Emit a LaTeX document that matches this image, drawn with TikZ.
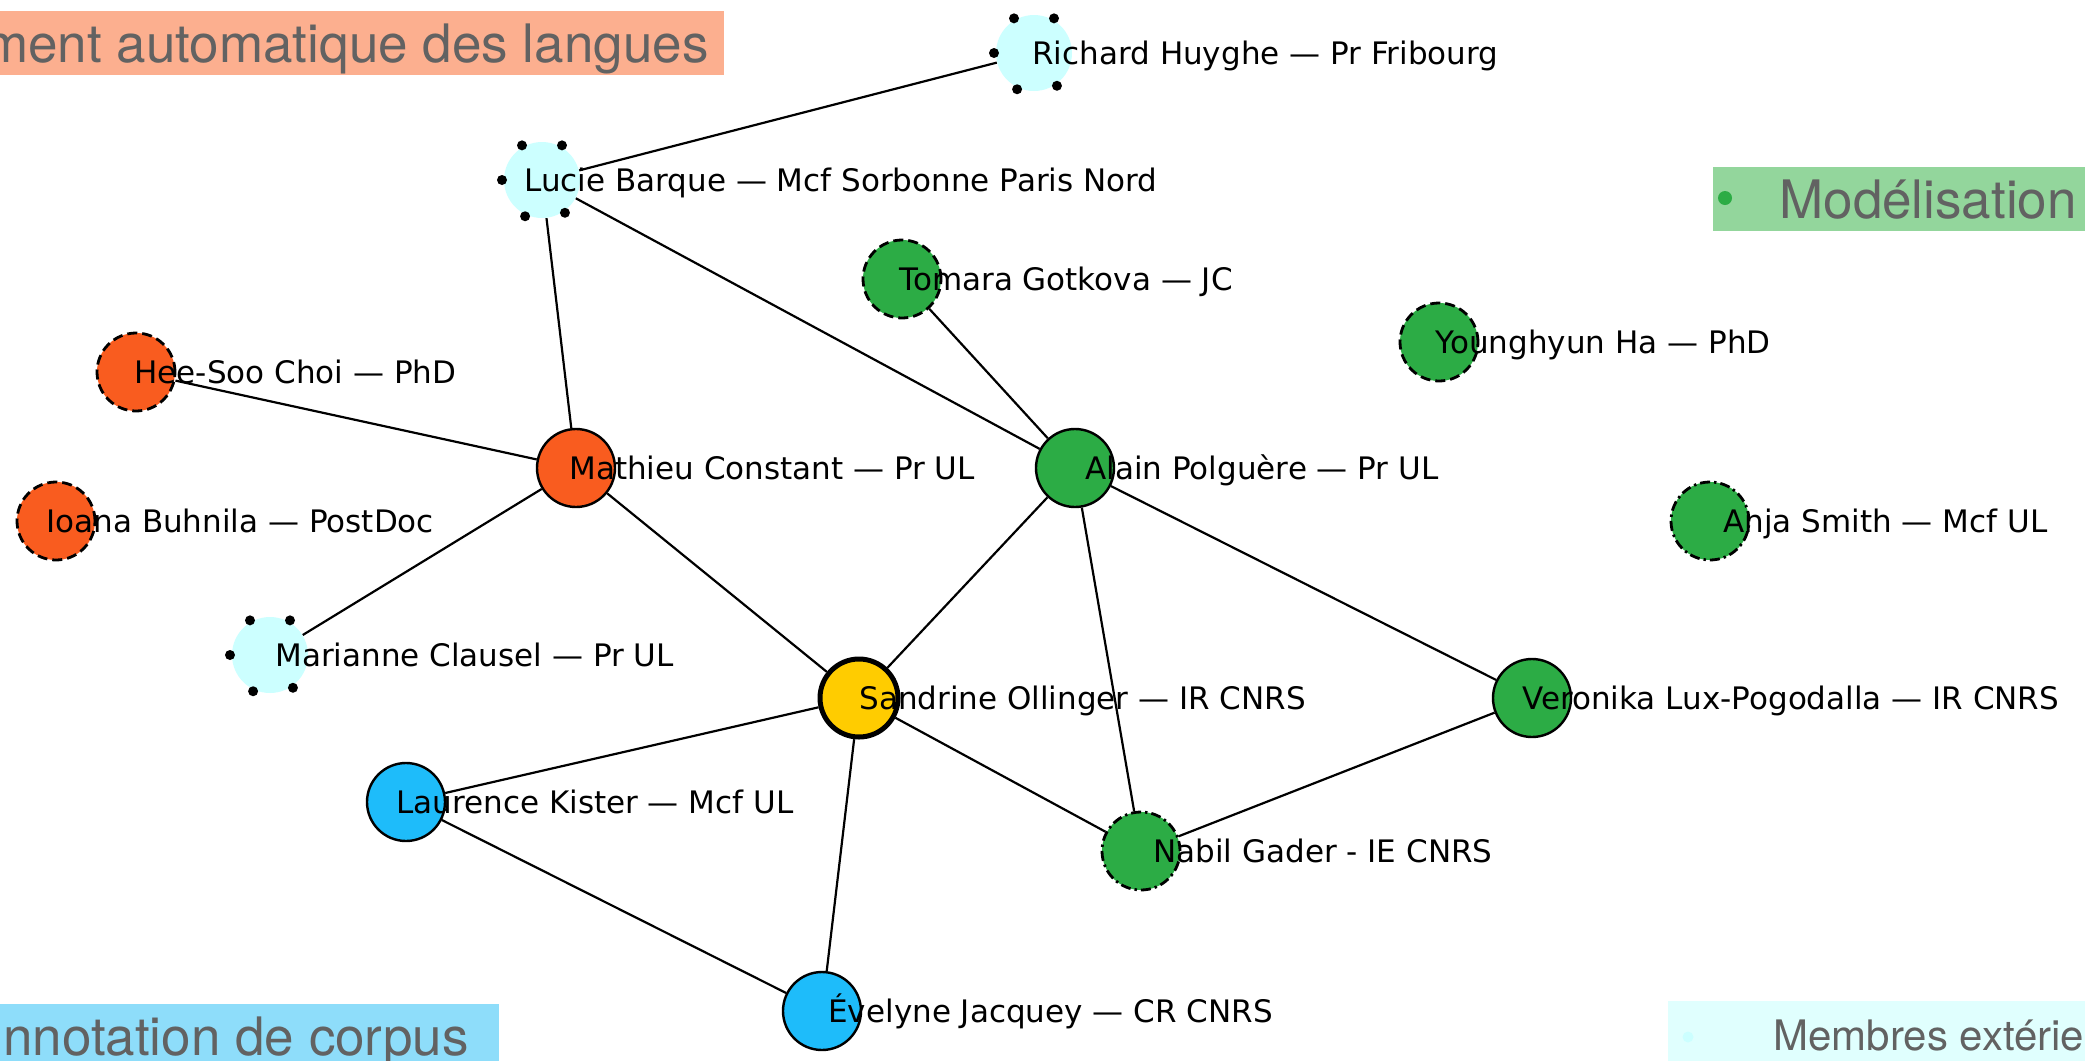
\documentclass[tikz,border=0pt]{standalone}
\usepackage{fontspec}
\usepackage{xcolor}
\usetikzlibrary{positioning}
\newfontfamily\lblfont{DejaVu Sans}
\newfontfamily\legfont{TeX Gyre Heros}
\definecolor{tlnorange}{RGB}{249,92,31}
\definecolor{modgreen}{RGB}{44,172,69}
\definecolor{annblue}{RGB}{30,188,250}
\definecolor{extcyan}{RGB}{204,255,255}
\definecolor{pilotyellow}{RGB}{255,204,0}
\definecolor{tlnbox}{RGB}{252,175,143}
\definecolor{modbox}{RGB}{147,214,156}
\definecolor{annbox}{RGB}{142,221,250}
\definecolor{extbox}{RGB}{224,255,254}
\definecolor{leggray}{RGB}{98,98,98}

\begin{document}
\begin{tikzpicture}[
    x=0.5pt, y=-0.5pt,
    member/.style={circle, draw=black, line width=1.2pt, minimum size=39pt, inner sep=0},
    visitor/.style={circle, fill=extcyan, minimum size=38pt, inner sep=0},
    dashedborder/.style={line width=1.4pt, dash pattern=on 5pt off 2.5pt},
    dashdotborder/.style={line width=1.4pt, dash pattern=on 5pt off 2pt on 1.2pt off 2pt},
    edge/.style={line width=1.1pt},
    lbl/.style={anchor=base west, inner sep=0, font=\lblfont\fontsize{15.5pt}{18pt}\selectfont},
    legend/.style={inner ysep=0, text height=25.5pt, text depth=6.5pt, text=leggray,
        font=\legfont\fontsize{26.5pt}{30pt}\selectfont},
    bullet/.style={circle, inner sep=0, minimum size=7pt}]
\useasboundingbox (0,0) rectangle (2085,1061);
\clip (0,0) rectangle (2085,1061);

\node[legend, fill=tlnbox, inner xsep=7.5pt, anchor=base east] (tln) at (724,62) {ment automatique des langues};
\node[legend, fill=annbox, inner xsep=15pt, anchor=base east] (ann) at (499,1055) {nnotation de corpus};
\node[legend, fill=modbox, inner xsep=33pt, anchor=base west] (mod) at (1713,218) {Modélisation};
\node[bullet, fill=modgreen] (mod-dot) at (1725,198) {};
\node[legend, fill=extbox, inner xsep=52.5pt, text height=24.5pt, text depth=8pt,
    font=\legfont\fontsize{21pt}{24pt}\selectfont, anchor=base west] (ext) at (1668,1050) {Membres extérie};
\node[bullet, fill=extcyan, minimum size=5.5pt] (ext-dot) at (1688,1037) {};

\node[visitor] (richard) at (1034,53) {};
\node[visitor] (lucie) at (542,180) {};
\node[member, fill=modgreen, dashedborder] (tomara) at (902,279) {};
\node[member, fill=modgreen, dashedborder] (younghyun) at (1439,342) {};
\node[member, fill=tlnorange, dashedborder] (heesoo) at (136,372) {};
\node[member, fill=tlnorange] (mathieu) at (576,468) {};
\node[member, fill=modgreen] (alain) at (1075,468) {};
\node[member, fill=tlnorange, dashedborder] (ioana) at (56,521) {};
\node[member, fill=modgreen, dashdotborder] (anja) at (1710,521) {};
\node[visitor] (marianne) at (270,655) {};
\node[member, fill=pilotyellow, line width=2.5pt] (sandrine) at (859,698) {};
\node[member, fill=modgreen] (veronika) at (1532,698) {};
\node[member, fill=annblue] (laurence) at (406,802) {};
\node[member, fill=modgreen, dashdotborder] (nabil) at (1141,851) {};
\node[member, fill=annblue] (evelyne) at (822,1011) {};

\foreach \n in {richard,lucie,marianne}
    \foreach \a in {60,120,180,245,305}
        \fill ([shift={(\a:20pt)}]\n.center) circle[radius=2.5pt];

\draw[edge] (richard) -- (lucie);
\draw[edge] (lucie) -- (mathieu);
\draw[edge] (lucie) -- (alain);
\draw[edge] (tomara) -- (alain);
\draw[edge] (heesoo) -- (mathieu);
\draw[edge] (mathieu) -- (marianne);
\draw[edge] (mathieu) -- (sandrine);
\draw[edge] (alain) -- (sandrine);
\draw[edge] (alain) -- (nabil);
\draw[edge] (alain) -- (veronika);
\draw[edge] (sandrine) -- (laurence);
\draw[edge] (sandrine) -- (evelyne);
\draw[edge] (sandrine) -- (nabil);
\draw[edge] (veronika) -- (nabil);
\draw[edge] (laurence) -- (evelyne);

\node[lbl] (richard-l) at (1032,64) {Richard Huyghe — Pr Fribourg};
\node[lbl] (lucie-l) at (524,191) {Lucie Barque — Mcf Sorbonne Paris Nord};
\node[lbl] (tomara-l) at (899,290) {Tomara Gotkova — JC};
\node[lbl] (younghyun-l) at (1435,353) {Younghyun Ha — PhD};
\node[lbl] (heesoo-l) at (134,383) {Hee-Soo Choi — PhD};
\node[lbl] (mathieu-l) at (569,479) {Mathieu Constant — Pr UL};
\node[lbl] (alain-l) at (1085,479) {Alain Polguère — Pr UL};
\node[lbl] (ioana-l) at (46,532) {Ioana Buhnila — PostDoc};
\node[lbl] (anja-l) at (1723,532) {Anja Smith — Mcf UL};
\node[lbl] (marianne-l) at (275,666) {Marianne Clausel — Pr UL};
\node[lbl] (sandrine-l) at (859,709) {Sandrine Ollinger — IR CNRS};
\node[lbl] (veronika-l) at (1522,709) {Veronika Lux-Pogodalla — IR CNRS};
\node[lbl] (laurence-l) at (396,813) {Laurence Kister — Mcf UL};
\node[lbl] (nabil-l) at (1153,862) {Nabil Gader - IE CNRS};
\node[lbl] (evelyne-l) at (828,1022) {Évelyne Jacquey — CR CNRS};

\end{tikzpicture}
\end{document}
